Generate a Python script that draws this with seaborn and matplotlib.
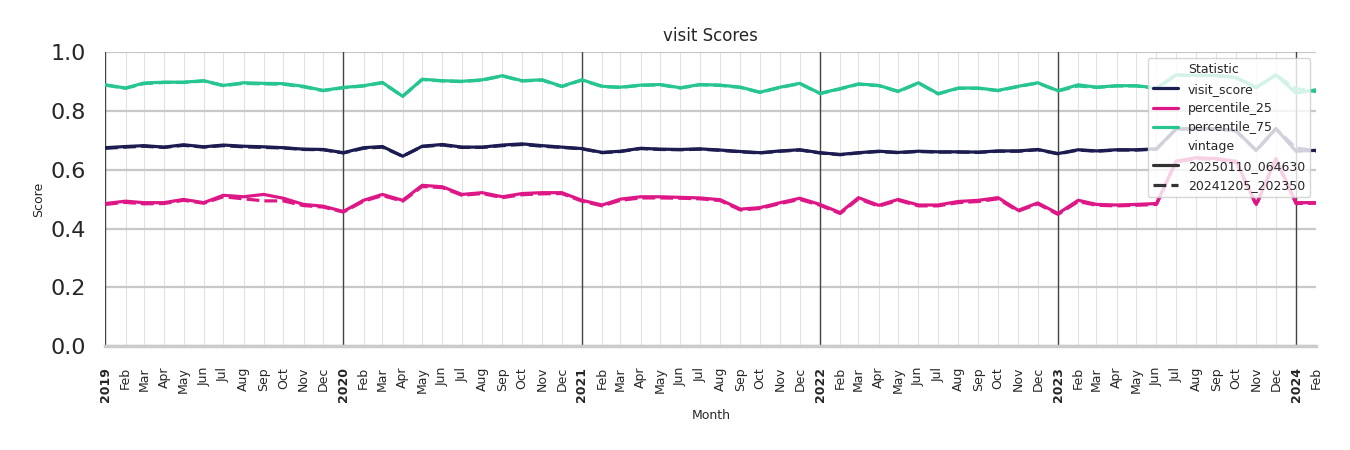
import numpy as np
import pandas as pd
import matplotlib
matplotlib.use("Agg")
import matplotlib.pyplot as plt
import seaborn as sns

months = pd.date_range("2019-01-01", "2024-02-01", freq="MS")

visit_score_new = [
    0.675, 0.679, 0.682, 0.677, 0.685, 0.678, 0.684, 0.680, 0.678, 0.675, 0.670, 0.669,
    0.658, 0.675, 0.679, 0.646, 0.680, 0.686, 0.677, 0.677, 0.684, 0.688, 0.682, 0.677,
    0.672, 0.659, 0.663, 0.673, 0.670, 0.669, 0.671, 0.667, 0.662, 0.658, 0.664, 0.668,
    0.658, 0.652, 0.658, 0.663, 0.659, 0.663, 0.661, 0.661, 0.660, 0.664, 0.664, 0.669,
    0.655, 0.668, 0.664, 0.668, 0.668, 0.671, 0.739, 0.740, 0.740, 0.733, 0.666, 0.740,
    0.663, 0.666]
visit_score_old = [
    0.673, 0.677, 0.680, 0.676, 0.683, 0.677, 0.682, 0.678, 0.676, 0.674, 0.669, 0.668,
    0.657, 0.673, 0.677, 0.646, 0.679, 0.684, 0.676, 0.676, 0.682, 0.686, 0.680, 0.676,
    0.671, 0.658, 0.662, 0.672, 0.669, 0.668, 0.670, 0.666, 0.661, 0.657, 0.663, 0.667,
    0.657, 0.651, 0.657, 0.662, 0.658, 0.662, 0.660, 0.660, 0.659, 0.663, 0.663, 0.668,
    0.654, 0.667, 0.663, 0.667, 0.667, 0.670, 0.738, 0.739, 0.739, 0.732, 0.665, 0.739,
    0.674, 0.664]

p25_new = [
    0.485, 0.493, 0.488, 0.488, 0.499, 0.488, 0.513, 0.508, 0.516, 0.503, 0.482, 0.476,
    0.458, 0.496, 0.516, 0.496, 0.547, 0.542, 0.516, 0.522, 0.508, 0.519, 0.522, 0.522,
    0.496, 0.480, 0.500, 0.508, 0.508, 0.506, 0.504, 0.498, 0.466, 0.471, 0.488, 0.503,
    0.482, 0.454, 0.505, 0.479, 0.499, 0.480, 0.480, 0.492, 0.496, 0.505, 0.462, 0.487,
    0.451, 0.496, 0.482, 0.480, 0.482, 0.485, 0.629, 0.641, 0.638, 0.629, 0.482, 0.638,
    0.488, 0.488]
p25_old = [
    0.482, 0.489, 0.484, 0.485, 0.496, 0.486, 0.508, 0.501, 0.494, 0.494, 0.478, 0.473,
    0.456, 0.493, 0.512, 0.493, 0.543, 0.539, 0.513, 0.519, 0.505, 0.515, 0.518, 0.519,
    0.493, 0.477, 0.496, 0.504, 0.504, 0.503, 0.501, 0.495, 0.463, 0.468, 0.485, 0.499,
    0.479, 0.451, 0.501, 0.476, 0.496, 0.477, 0.477, 0.488, 0.492, 0.501, 0.459, 0.484,
    0.448, 0.492, 0.479, 0.477, 0.479, 0.482, 0.626, 0.638, 0.635, 0.626, 0.479, 0.635,
    0.485, 0.486]

p75_new = [
    0.889, 0.878, 0.895, 0.898, 0.898, 0.903, 0.887, 0.896, 0.894, 0.893, 0.884, 0.870,
    0.880, 0.886, 0.897, 0.850, 0.908, 0.903, 0.901, 0.906, 0.920, 0.903, 0.906, 0.884,
    0.906, 0.884, 0.881, 0.888, 0.890, 0.879, 0.890, 0.888, 0.881, 0.864, 0.881, 0.894,
    0.860, 0.876, 0.892, 0.887, 0.867, 0.896, 0.859, 0.878, 0.878, 0.870, 0.884, 0.896,
    0.869, 0.889, 0.881, 0.886, 0.886, 0.878, 0.923, 0.921, 0.921, 0.914, 0.880, 0.923,
    0.861, 0.872]
p75_old = [
    0.888, 0.877, 0.893, 0.897, 0.897, 0.902, 0.886, 0.894, 0.892, 0.891, 0.882, 0.869,
    0.879, 0.885, 0.896, 0.850, 0.907, 0.902, 0.900, 0.905, 0.919, 0.902, 0.905, 0.883,
    0.905, 0.883, 0.880, 0.887, 0.889, 0.878, 0.889, 0.887, 0.880, 0.863, 0.880, 0.893,
    0.859, 0.875, 0.891, 0.886, 0.866, 0.895, 0.858, 0.877, 0.877, 0.869, 0.883, 0.895,
    0.868, 0.885, 0.880, 0.885, 0.885, 0.877, 0.922, 0.920, 0.920, 0.913, 0.879, 0.922,
    0.876, 0.866]

statistics = ["visit_score", "percentile_25", "percentile_75"]
vintages = ["20250110_064630", "20241205_202350"]
series = {
    ("visit_score", vintages[0]): visit_score_new,
    ("visit_score", vintages[1]): visit_score_old,
    ("percentile_25", vintages[0]): p25_new,
    ("percentile_25", vintages[1]): p25_old,
    ("percentile_75", vintages[0]): p75_new,
    ("percentile_75", vintages[1]): p75_old,
}
month_names = ["Jan", "Feb", "Mar", "Apr", "May", "Jun", "Jul", "Aug", "Sep", "Oct", "Nov", "Dec"]

rows = []
for (stat, vint), vals in series.items():
    for m, v in zip(months, vals):
        rows.append({"Month": m, "Score": v, "Statistic": stat, "vintage": vint})
df = pd.DataFrame(rows)

sns.set_style("whitegrid")
plt.rcParams["font.family"] = ["DejaVu Sans"]

fig = plt.figure(figsize=(13.5, 4.5), dpi=100)
ax = fig.add_axes([0.078, 0.231, 0.897, 0.653])

palette = {"visit_score": "#1c1c50", "percentile_25": "#de1787", "percentile_75": "#26c591"}
sns.lineplot(data=df, x="Month", y="Score", hue="Statistic", style="vintage",
             hue_order=statistics, style_order=vintages, palette=palette,
             dashes={vintages[0]: "", vintages[1]: (4, 1.6)}, linewidth=2.3, ax=ax)

ax.set_ylim(0, 1.0)
ax.set_xlim(months[0], months[-1])
ax.set_yticks([0.0, 0.2, 0.4, 0.6, 0.8, 1.0])
ax.set_yticklabels(["0.0", "0.2", "0.4", "0.6", "0.8", "1.0"])
ax.tick_params(axis="y", labelsize=16, length=0, pad=14, labelcolor="#262626")

labels = [str(m.year) if m.month == 1 else month_names[m.month - 1] for m in months]
ax.set_xticks(months)
ax.set_xticklabels(labels, rotation=90)
ax.tick_params(axis="x", labelsize=9, length=0, pad=15, labelcolor="#262626")
for lab, m in zip(ax.get_xticklabels(), months):
    if m.month == 1:
        lab.set_fontweight("bold")

ax.grid(axis="y", color="#c8c8c8", linewidth=1.6)
ax.grid(axis="x", color="#e2e2e2", linewidth=0.8)
for m in months:
    if m.month == 1:
        ax.axvline(m, color="#444444", linewidth=1.0, zorder=1)

for s in ["top", "right", "left"]:
    ax.spines[s].set_visible(False)
ax.spines["bottom"].set_color("#cccccc")
ax.spines["bottom"].set_linewidth(2.5)

ax.set_title("visit Scores", fontsize=12, pad=8)
ax.set_ylabel("Score", fontsize=9, labelpad=4)
ax.set_xlabel("Month", fontsize=9, labelpad=5)

sns.move_legend(ax, "upper right", fontsize=9, frameon=True, framealpha=0.8)

fig.savefig("out.png", dpi=100)
